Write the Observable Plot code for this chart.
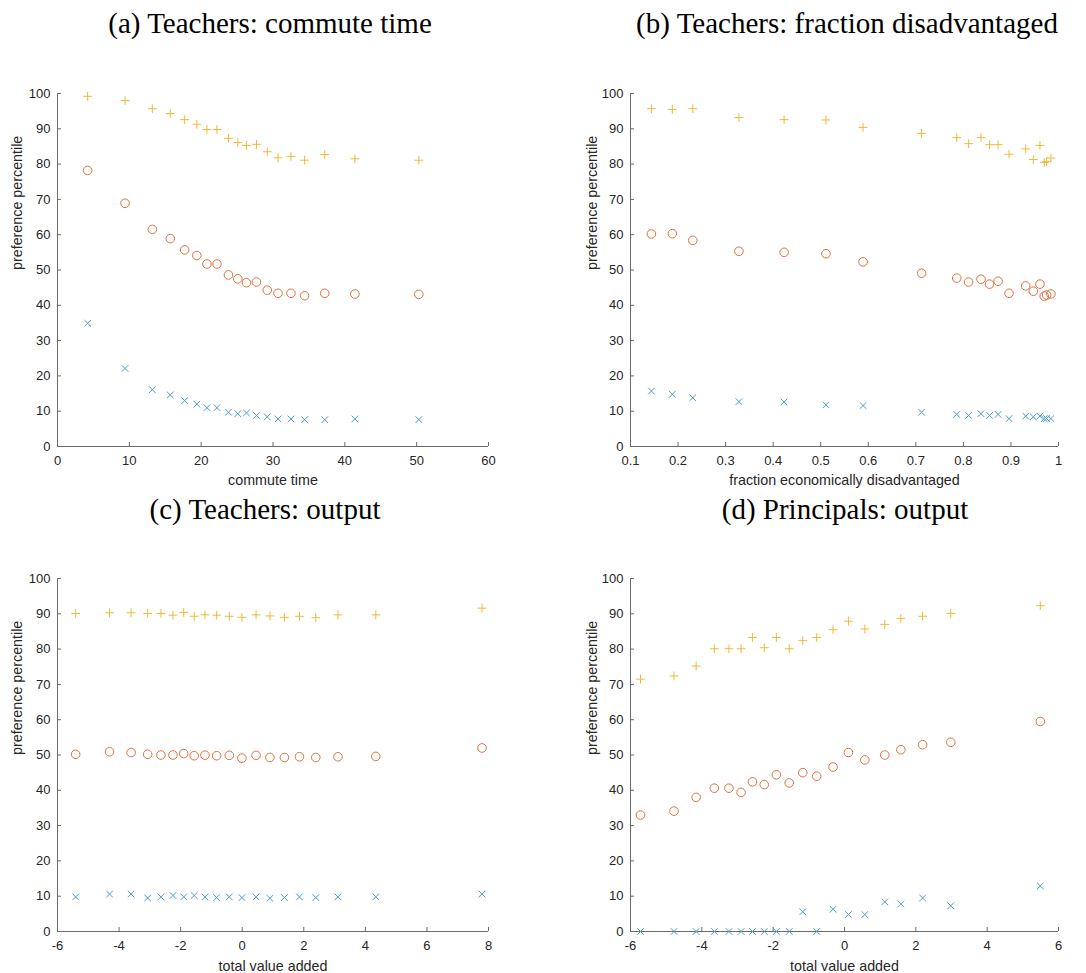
<!DOCTYPE html>
<html><head><meta charset="utf-8">
<script src="https://cdn.jsdelivr.net/npm/d3@7"></script>
<script src="https://cdn.jsdelivr.net/npm/@observablehq/plot@0.6"></script>
<style>
body{margin:0;background:#fff;}
#root{position:relative;width:1086px;height:973px;overflow:hidden;background:#fff;}
.title{position:absolute;width:540px;text-align:center;font-family:"Liberation Serif","Times New Roman",serif;font-size:29px;line-height:29px;color:#000;white-space:nowrap;}
.panel{position:absolute;}
</style></head><body><div id="root"></div>
<script>
// ---------- data ----------
const yTicks = [0, 10, 20, 30, 40, 50, 60, 70, 80, 90, 100];
const yLabel = "preference percentile";

// (a) Teachers: commute time
const aTitle = "(a) Teachers: commute time";
const aXLabel = "commute time";
const aXTicks = [0, 10, 20, 30, 40, 50, 60];
const aX = [4.2, 9.4, 13.2, 15.7, 17.7, 19.4, 20.8, 22.2, 23.8, 25.1, 26.3, 27.7, 29.2, 30.7, 32.5, 34.4, 37.2, 41.4, 50.3];
const aPlus = [99.2, 98.0, 95.7, 94.3, 92.6, 91.3, 89.8, 89.8, 87.3, 86.1, 85.3, 85.6, 83.5, 81.8, 82.2, 81.1, 82.7, 81.5, 81.1];
const aCircle = [78.2, 68.9, 61.5, 58.9, 55.7, 54.1, 51.7, 51.7, 48.6, 47.5, 46.4, 46.6, 44.3, 43.4, 43.4, 42.7, 43.4, 43.2, 43.1];
const aTimes = [34.9, 22.1, 16.1, 14.6, 13.0, 12.0, 11.0, 11.0, 9.7, 9.3, 9.5, 8.8, 8.4, 7.8, 7.8, 7.6, 7.6, 7.8, 7.6];

// (b) Teachers: fraction disadvantaged
const bTitle = "(b) Teachers: fraction disadvantaged";
const bXLabel = "fraction economically disadvantaged";
const bXTicks = [0.1, 0.2, 0.3, 0.4, 0.5, 0.6, 0.7, 0.8, 0.9, 1];
const bX = [0.144, 0.188, 0.231, 0.328, 0.423, 0.511, 0.589, 0.712, 0.786, 0.811, 0.837, 0.855, 0.873, 0.896, 0.931, 0.947, 0.961, 0.970, 0.975, 0.984];
const bPlus = [95.7, 95.5, 95.7, 93.2, 92.6, 92.5, 90.4, 88.7, 87.5, 85.8, 87.5, 85.5, 85.5, 82.8, 84.3, 81.3, 85.3, 80.5, 80.7, 81.7];
const bCircle = [60.2, 60.3, 58.4, 55.3, 55.0, 54.6, 52.3, 49.1, 47.7, 46.6, 47.4, 46.0, 46.8, 43.4, 45.5, 44.0, 46.0, 42.6, 42.9, 43.2];
const bTimes = [15.7, 14.8, 13.8, 12.7, 12.6, 11.8, 11.6, 9.7, 9.1, 8.8, 9.3, 8.8, 9.1, 7.9, 8.6, 8.4, 8.6, 7.9, 7.9, 7.9];

// (c) Teachers: output
const cTitle = "(c) Teachers: output";
const cXLabel = "total value added";
const cXTicks = [-6, -4, -2, 0, 2, 4, 6, 8];
const cX = [-5.41, -4.31, -3.61, -3.07, -2.64, -2.25, -1.90, -1.56, -1.21, -0.83, -0.42, -0.01, 0.45, 0.90, 1.37, 1.86, 2.39, 3.11, 4.34, 7.79];
const cPlus = [90.1, 90.3, 90.3, 90.1, 90.1, 89.6, 90.4, 89.3, 89.7, 89.6, 89.3, 89.0, 89.7, 89.4, 89.0, 89.3, 88.9, 89.7, 89.7, 91.6];
const cCircle = [50.2, 50.9, 50.7, 50.2, 50.0, 50.0, 50.4, 49.8, 49.95, 49.8, 49.9, 49.1, 49.9, 49.3, 49.3, 49.5, 49.3, 49.5, 49.6, 52.0];
const cTimes = [9.8, 10.6, 10.6, 9.5, 9.8, 10.2, 9.8, 10.2, 9.8, 9.6, 9.8, 9.6, 9.8, 9.4, 9.6, 9.8, 9.6, 9.8, 9.8, 10.6];

// (d) Principals: output
const dTitle = "(d) Principals: output";
const dXLabel = "total value added";
const dXTicks = [-6, -4, -2, 0, 2, 4, 6];
const dX = [-5.72, -4.78, -4.16, -3.65, -3.24, -2.90, -2.58, -2.25, -1.91, -1.55, -1.17, -0.78, -0.32, 0.11, 0.57, 1.13, 1.58, 2.19, 2.98, 5.49];
const dPlus = [71.5, 72.4, 75.2, 80.1, 80.1, 80.1, 83.3, 80.4, 83.3, 80.1, 82.4, 83.3, 85.5, 87.9, 85.7, 87.0, 88.7, 89.3, 90.1, 92.3];
const dCircle = [33.0, 34.1, 38.0, 40.6, 40.6, 39.4, 42.4, 41.6, 44.4, 42.1, 45.0, 44.0, 46.6, 50.7, 48.6, 50.0, 51.5, 52.9, 53.6, 59.5];
const dTimes = [0, 0, 0, 0, 0, 0, 0, 0, 0, 0, 5.6, 0, 6.3, 4.8, 4.8, 8.4, 7.8, 9.5, 7.3, 12.9];

// ---------- styles ----------
const yellow = "#F0B838";
const orange = "#E0703F";
const blue = "#4C9BD6";
const axisColor = "#6a6a6a";
const textColor = "#262626";

const plusSym = {draw(ctx, size) { const r = Math.sqrt(size / Math.PI); ctx.moveTo(-r, 0); ctx.lineTo(r, 0); ctx.moveTo(0, -r); ctx.lineTo(0, r); }};
const timesSym = {draw(ctx, size) { const r = Math.sqrt(size / Math.PI); ctx.moveTo(-r, -r); ctx.lineTo(r, r); ctx.moveTo(-r, r); ctx.lineTo(r, -r); }};

const panels = [
  {title: aTitle, xlabel: aXLabel, xTicks: aXTicks, x: aX, plus: aPlus, circle: aCircle, times: aTimes,
   left: 0, top: 60, h: 430, mL: 57, mR: 55, mT: 33, mB: 44, yLabX: 17, xLabDy: 38, tCx: 270, tTop: 8.7},
  {title: bTitle, xlabel: bXLabel, xTicks: bXTicks, x: bX, plus: bPlus, circle: bCircle, times: bTimes,
   left: 543, top: 60, h: 430, mL: 87, mR: 28, mT: 33, mB: 44, yLabX: 49, xLabDy: 38, tCx: 847, tTop: 8.7},
  {title: cTitle, xlabel: cXLabel, xTicks: cXTicks, x: cX, plus: cPlus, circle: cCircle, times: cTimes,
   left: 0, top: 545, h: 428, mL: 57, mR: 55, mT: 33, mB: 42, yLabX: 17, xLabDy: 39, tCx: 265, tTop: 494.7},
  {title: dTitle, xlabel: dXLabel, xTicks: dXTicks, x: dX, plus: dPlus, circle: dCircle, times: dTimes,
   left: 543, top: 545, h: 428, mL: 87, mR: 28, mT: 33, mB: 42, yLabX: 49, xLabDy: 39, tCx: 845, tTop: 494.7}
];

const root = document.getElementById("root");
for (const p of panels) {
  const rows = p.x.map((x, i) => ({x, plus: p.plus[i], circle: p.circle[i], times: p.times[i]}));
  const xDomain = [p.xTicks[0], p.xTicks[p.xTicks.length - 1]];
  const chart = Plot.plot({
    width: 543, height: p.h,
    marginLeft: p.mL, marginRight: p.mR, marginTop: p.mT, marginBottom: p.mB,
    style: {fontFamily: '"Liberation Sans", Arial, Helvetica, sans-serif', fontSize: "13px", color: textColor, background: "transparent", overflow: "visible"},
    x: {domain: xDomain, label: null},
    y: {domain: [0, 100], label: null},
    marks: [
      Plot.ruleY([0], {stroke: axisColor, strokeWidth: 1}),
      Plot.ruleX([xDomain[0]], {stroke: axisColor, strokeWidth: 1}),
      Plot.axisX(p.xTicks, {tickSize: -4, stroke: axisColor, fill: "none", label: null}),
      Plot.axisY(yTicks, {tickSize: -4, stroke: axisColor, fill: "none", label: null}),
      Plot.axisX(p.xTicks, {tickSize: 0, tickPadding: 9, tickFormat: d => String(d), fill: textColor, label: null}),
      Plot.axisY(yTicks, {tickSize: 0, tickPadding: 7, tickFormat: d => String(d), fill: textColor, label: null}),
      Plot.text([p.xlabel], {text: d => d, frameAnchor: "bottom", dy: p.xLabDy, lineAnchor: "bottom", fontSize: 14.3, fill: textColor}),
      Plot.text([yLabel], {text: d => d, frameAnchor: "left", dx: p.yLabX - p.mL, rotate: -90, fontSize: 14.3, fill: textColor}),
      Plot.dot(rows, {x: "x", y: "times", symbol: timesSym, r: 3.3, stroke: blue, fill: "none", strokeWidth: 1}),
      Plot.dot(rows, {x: "x", y: "circle", r: 4.3, stroke: orange, fill: "none", strokeWidth: 1}),
      Plot.dot(rows, {x: "x", y: "plus", symbol: plusSym, r: 4.4, stroke: yellow, fill: "none", strokeWidth: 1})
    ]
  });
  chart.classList.add("panel");
  chart.style.left = p.left + "px";
  chart.style.top = p.top + "px";
  chart.style.position = "absolute";
  root.appendChild(chart);
  const t = document.createElement("div");
  t.className = "title";
  t.textContent = p.title;
  t.style.left = (p.tCx - 270) + "px";
  t.style.top = p.tTop + "px";
  root.appendChild(t);
}
</script>
</body></html>
